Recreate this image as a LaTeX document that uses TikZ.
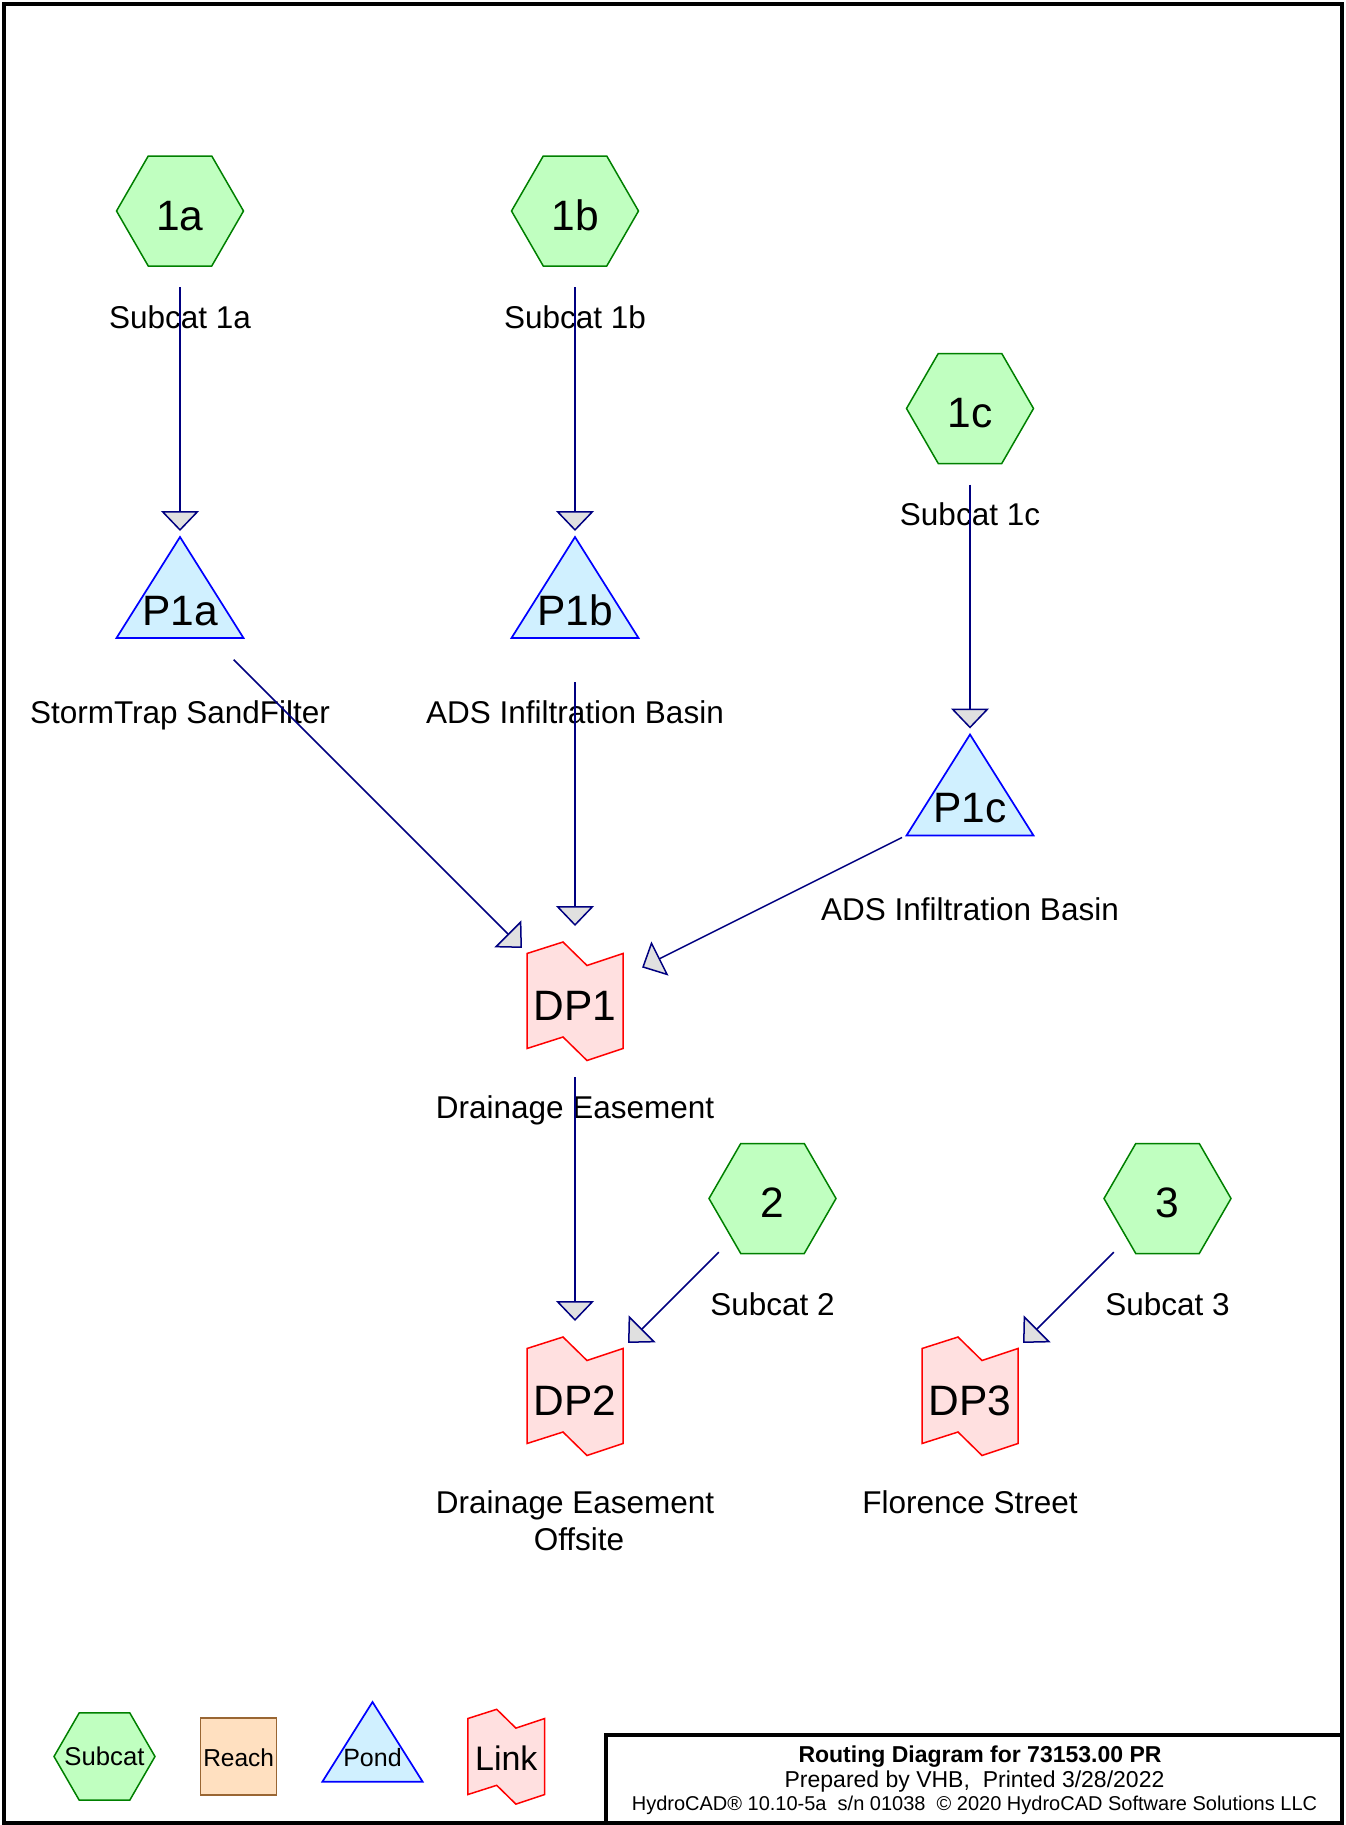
\documentclass[tikz,border=0pt]{standalone}
\usepackage{fontspec}
\setmainfont{Liberation Sans}
\usetikzlibrary{arrows.meta,calc}

\definecolor{flowline}{RGB}{0,0,128}
\definecolor{tipfill}{RGB}{224,224,224}
\definecolor{subfill}{RGB}{192,255,192}
\definecolor{subedge}{RGB}{0,128,0}
\definecolor{pondfill}{RGB}{208,240,255}
\definecolor{pondedge}{RGB}{0,0,255}
\definecolor{linkfill}{RGB}{255,224,224}
\definecolor{linkedge}{RGB}{255,0,0}
\definecolor{reachfill}{RGB}{255,224,192}
\definecolor{reachedge}{RGB}{153,102,51}

\newcommand\hcscale{1}

\makeatletter
% Subcatchment: flat-topped hexagon about the node centre
\pgfdeclareshape{subcathex}{
  \inheritsavedanchors[from=circle]
  \inheritanchor[from=circle]{center}
  \inheritanchorborder[from=circle]
  \backgroundpath{
    \pgfpathmoveto{\pgfpointadd{\centerpoint}{\pgfpoint{-\hcscale*63.5pt}{0pt}}}
    \pgfpathlineto{\pgfpointadd{\centerpoint}{\pgfpoint{-\hcscale*31.75pt}{\hcscale*55pt}}}
    \pgfpathlineto{\pgfpointadd{\centerpoint}{\pgfpoint{\hcscale*31.75pt}{\hcscale*55pt}}}
    \pgfpathlineto{\pgfpointadd{\centerpoint}{\pgfpoint{\hcscale*63.5pt}{0pt}}}
    \pgfpathlineto{\pgfpointadd{\centerpoint}{\pgfpoint{\hcscale*31.75pt}{-\hcscale*55pt}}}
    \pgfpathlineto{\pgfpointadd{\centerpoint}{\pgfpoint{-\hcscale*31.75pt}{-\hcscale*55pt}}}
    \pgfpathclose
  }
}
% Pond: triangle, apex high above the centre
\pgfdeclareshape{pondtri}{
  \inheritsavedanchors[from=circle]
  \inheritanchor[from=circle]{center}
  \inheritanchorborder[from=circle]
  \backgroundpath{
    \pgfpathmoveto{\pgfpointadd{\centerpoint}{\pgfpoint{0pt}{\hcscale*69pt}}}
    \pgfpathlineto{\pgfpointadd{\centerpoint}{\pgfpoint{\hcscale*63.5pt}{-\hcscale*32pt}}}
    \pgfpathlineto{\pgfpointadd{\centerpoint}{\pgfpoint{-\hcscale*63.5pt}{-\hcscale*32pt}}}
    \pgfpathclose
  }
}
% Link: notched flag outline
\pgfdeclareshape{linkflag}{
  \inheritsavedanchors[from=circle]
  \inheritanchor[from=circle]{center}
  \inheritanchorborder[from=circle]
  \backgroundpath{
    \pgfpathmoveto{\pgfpointadd{\centerpoint}{\pgfpoint{-\hcscale*48pt}{\hcscale*47.5pt}}}
    \pgfpathlineto{\pgfpointadd{\centerpoint}{\pgfpoint{-\hcscale*12pt}{\hcscale*59pt}}}
    \pgfpathlineto{\pgfpointadd{\centerpoint}{\pgfpoint{\hcscale*12pt}{\hcscale*35.5pt}}}
    \pgfpathlineto{\pgfpointadd{\centerpoint}{\pgfpoint{\hcscale*48pt}{\hcscale*47.5pt}}}
    \pgfpathlineto{\pgfpointadd{\centerpoint}{\pgfpoint{\hcscale*48pt}{-\hcscale*47.5pt}}}
    \pgfpathlineto{\pgfpointadd{\centerpoint}{\pgfpoint{\hcscale*12pt}{-\hcscale*59.5pt}}}
    \pgfpathlineto{\pgfpointadd{\centerpoint}{\pgfpoint{-\hcscale*12pt}{-\hcscale*36pt}}}
    \pgfpathlineto{\pgfpointadd{\centerpoint}{\pgfpoint{-\hcscale*48pt}{-\hcscale*47.5pt}}}
    \pgfpathclose
  }
}
\makeatother

\tikzset{
  hc scale/.code={\def\hcscale{#1}},
  idtext/.style={font=\fontsize{42.5}{50}\selectfont, text height=38pt, text depth=0pt,
    inner sep=0pt, minimum size=0pt, line width=1.5pt},
  subcat/.style={idtext, shape=subcathex, draw=subedge, fill=subfill},
  pond/.style={idtext, shape=pondtri, draw=pondedge, fill=pondfill, line width=1.7pt},
  link/.style={idtext, shape=linkflag, draw=linkedge, fill=linkfill},
  lbl/.style={font=\fontsize{31.5}{37}\selectfont, anchor=base, inner sep=0pt},
  flow/.style={draw=flowline, line width=1.5pt, shorten <=76pt, shorten >=75pt,
    -{Triangle[width=38pt,length=20pt,fill=tipfill]}},
  tbtext/.style={anchor=base, inner sep=0pt},
}

\begin{document}
\begin{tikzpicture}[x=1pt, y=-1pt]
\useasboundingbox (0,0) rectangle (1345,1825);

% nodes of the routing network
\node[subcat] (s1a) at (180,211) {1a};
\node[subcat] (s1b) at (575,211) {1b};
\node[subcat] (s1c) at (970,408.5) {1c};
\node[pond] (P1a) at (180,606) {P1a};
\node[pond] (P1b) at (575,606) {P1b};
\node[pond] (P1c) at (970,803.5) {P1c};
\node[link] (DP1) at (575,1001) {DP1};
\node[subcat] (s2) at (772.5,1198.5) {2};
\node[subcat] (s3) at (1167.5,1198.5) {3};
\node[link] (DP2) at (575,1396) {DP2};
\node[link] (DP3) at (970,1396) {DP3};

% descriptions under each node
\node[lbl] (l1a) at ($(s1a)+(0,117)$) {Subcat 1a};
\node[lbl] (l1b) at ($(s1b)+(0,117)$) {Subcat 1b};
\node[lbl] (l1c) at ($(s1c)+(0,117)$) {Subcat 1c};
\node[lbl] (lP1a) at ($(P1a)+(0,117)$) {StormTrap SandFilter};
\node[lbl] (lP1b) at ($(P1b)+(0,117)$) {ADS Infiltration Basin};
\node[lbl] (lP1c) at ($(P1c)+(0,117)$) {ADS Infiltration Basin};
\node[lbl] (lDP1) at ($(DP1)+(0,117)$) {Drainage Easement};
\node[lbl] (l2) at ($(s2)+(0,117)$) {Subcat 2};
\node[lbl] (l3) at ($(s3)+(0,117)$) {Subcat 3};
\node[lbl] (lDP2) at ($(DP2)+(0,117)$) {Drainage Easement};
\node[lbl] (lDP2b) at ($(DP2)+(4,154)$) {Offsite};
\node[lbl] (lDP3) at ($(DP3)+(0,117)$) {Florence Street};

% routing
\draw[flow] (s1a.center) -- (P1a.center);
\draw[flow] (s1b.center) -- (P1b.center);
\draw[flow] (s1c.center) -- (P1c.center);
\draw[flow] (P1a.center) -- (DP1.center);
\draw[flow] (P1b.center) -- (DP1.center);
\draw[flow] (P1c.center) -- (DP1.center);
\draw[flow] (DP1.center) -- (DP2.center);
\draw[flow] (s2.center) -- (DP2.center);
\draw[flow] (s3.center) -- (DP3.center);

% legend
\node[subcat, hc scale=0.795, font=\fontsize{25.7}{30}\selectfont, text height=18pt] (legsub) at (104.5,1756.5) {Subcat};
\node[draw=reachedge, fill=reachfill, line width=1.5pt, minimum width=76pt, minimum height=76.7pt,
  inner sep=0pt, font=\fontsize{24.5}{28}\selectfont, text height=19pt, text depth=0pt] (legreach) at (238.7,1756.5) {Reach};
\node[pond, hc scale=0.79, font=\fontsize{25}{30}\selectfont, text height=20.4pt] (legpond) at (372.5,1756.5) {Pond};
\node[link, hc scale=0.8, font=\fontsize{34}{40}\selectfont, text height=27pt] (leglink) at (506.3,1756.5) {Link};

% sheet frame and title block
\draw[line width=4pt] (3.7,3.7) rectangle (1342.2,1823);
\draw[line width=4.5pt] (606,1823) -- (606,1735) -- (1342.2,1735);
\node[tbtext, font=\bfseries\fontsize{23}{27}\selectfont] (tbtitle) at (980,1762) {Routing Diagram for 73153.00 PR};
\node[tbtext, font=\fontsize{23}{27}\selectfont] (tbprep) at (974.5,1787) {Prepared by VHB,\ \ Printed 3/28/2022};
\node[tbtext, font=\fontsize{20}{24}\selectfont] (tbsoft) at (974.5,1810) {HydroCAD® 10.10-5a\ \ s/n 01038\ \ © 2020 HydroCAD Software Solutions LLC};
\end{tikzpicture}
\end{document}
